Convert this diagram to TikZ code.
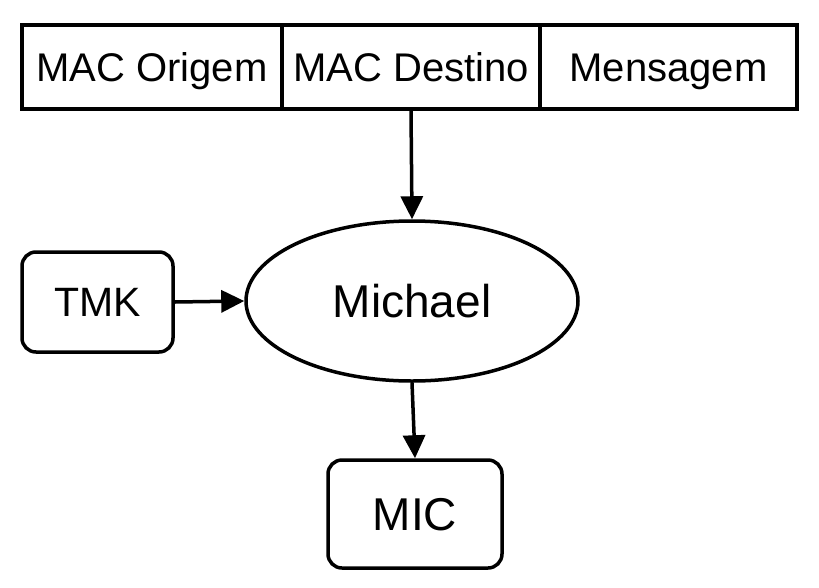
\documentclass[tikz,border=0pt]{standalone}
\usepackage{fontspec}
\setmainfont{Liberation Sans}
\usetikzlibrary{arrows.meta,shapes.geometric}
\begin{document}
\begin{tikzpicture}[x=1pt,y=-1pt,
  line width=3.5pt,
  cell/.style={draw,rectangle,inner sep=0pt,minimum height=84pt,font=\fontsize{40}{48}\selectfont,text height=28.6pt,text depth=0pt},
  rbox/.style={draw,rectangle,rounded corners=14pt,inner sep=0pt},
  arr/.style={-{Triangle[length=23pt,width=22pt]},line width=3.5pt}]
\useasboundingbox (0,0) rectangle (819,587);
\node[cell,minimum width=260pt] (orig) at (152,67) {MAC Origem};
\node[cell,minimum width=258pt] (dest) at (411,67) {MAC Destino};
\node[cell,minimum width=257pt] (msg) at (668.5,67) {Mensagem};
\node[draw,ellipse,inner sep=0pt,minimum width=332pt,minimum height=160pt,font=\fontsize{46}{55}\selectfont,text height=33pt,text depth=0pt] (el) at (412,301) {Michael};
\node[rbox,minimum width=151pt,minimum height=100pt,font=\fontsize{41}{49}\selectfont,text height=29.4pt,text depth=0pt] (tmk) at (97.5,302) {TMK};
\node[rbox,minimum width=174pt,minimum height=108pt,font=\fontsize{46}{55}\selectfont,text height=33pt,text depth=0pt] (mic) at (415,514) {MIC};
\draw[arr] (dest.south) -- (el.north);
\draw[arr] (tmk.east) -- (el.west);
\draw[arr] (el.south) -- (mic.north);
\end{tikzpicture}
\end{document}
